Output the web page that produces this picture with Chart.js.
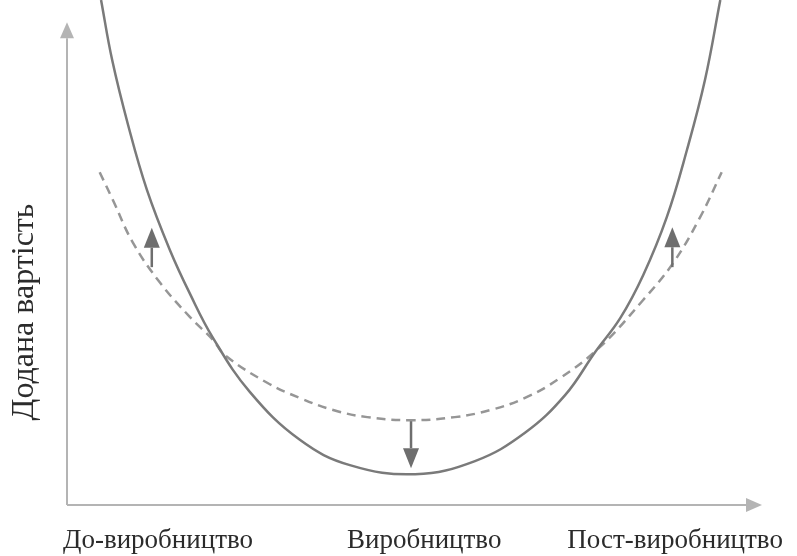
<!DOCTYPE html>
<html>
<head>
    <title>Smile Curve</title>
    <script src="https://cdn.jsdelivr.net/npm/chart.js"></script>
    <style>
        body { margin: 0; background: #fff; }
    </style>
</head>
<body>
    <canvas id="chart" width="797" height="556"></canvas>

    <script>
        // values, x and y on a 0..100 scale
        const solidX = [4.9, 6.5, 8.8, 11.5, 14.8, 17.7, 21.0, 26.3, 33.5, 40.7, 50.1, 58.7, 65.9, 71.7, 76.0, 79.6, 82.9, 86.3, 89.2, 91.8, 94.0];
        const solidY = [100, 88.1, 75.2, 62.4, 50.5, 41.8, 33.1, 22.4, 12.9, 7.9, 6.1, 8.7, 14.3, 21.8, 30.3, 37.0, 45.5, 57.0, 70.3, 84.2, 100];
        const dashedX = [4.7, 6.6, 9.5, 13.4, 17.7, 21.0, 22.7, 28.8, 33.5, 38.3, 43.2, 49.4, 55.8, 60.9, 65.9, 70.9, 76.7, 82.9, 87.2, 91.1, 94.2];
        const dashedY = [65.9, 60.4, 51.9, 44.0, 37.2, 32.7, 29.7, 24.2, 21.2, 18.8, 17.4, 16.8, 17.4, 18.8, 21.2, 25.1, 31.3, 40.6, 47.9, 57.0, 65.9];

        // shift arrows: x, start y, end y
        const shiftX = [12.2, 87.1, 49.5];
        const shiftFrom = [47.1, 47.1, 16.6];
        const shiftTo = [54.9, 55.0, 7.3];

        const stageLabels = ['До-виробництво', 'Виробництво', 'Пост-виробництво'];
        const stageX = [13.1, 51.4, 87.5];
        const yTitle = 'Додана вартість';

        const toPoints = (xs, ys) => xs.map((v, i) => ({ x: v, y: ys[i] }));

        function arrow(ctx, x1, y1, x2, y2, len, w) {
            const ang = Math.atan2(y2 - y1, x2 - x1);
            const bx = x2 - len * Math.cos(ang), by = y2 - len * Math.sin(ang);
            ctx.beginPath();
            ctx.moveTo(x1, y1);
            ctx.lineTo(bx, by);
            ctx.stroke();
            ctx.beginPath();
            ctx.moveTo(x2, y2);
            ctx.lineTo(bx + w / 2 * Math.sin(ang), by - w / 2 * Math.cos(ang));
            ctx.lineTo(bx - w / 2 * Math.sin(ang), by + w / 2 * Math.cos(ang));
            ctx.closePath();
            ctx.fill();
        }

        const decor = {
            id: 'decor',
            afterDatasetsDraw(chart) {
                const { ctx, chartArea: a, scales: { x, y } } = chart;
                ctx.save();

                // axes
                ctx.strokeStyle = '#b4b4b4';
                ctx.fillStyle = '#b4b4b4';
                ctx.lineWidth = 2;
                arrow(ctx, a.left, a.bottom, a.left, y.getPixelForValue(95.6), 16, 14);
                arrow(ctx, a.left, a.bottom, a.right, a.bottom, 16, 14);

                // shift arrows
                ctx.strokeStyle = '#6e6e6e';
                ctx.fillStyle = '#6e6e6e';
                ctx.lineWidth = 2.5;
                shiftX.forEach((v, i) => {
                    arrow(ctx, x.getPixelForValue(v), y.getPixelForValue(shiftFrom[i]),
                        x.getPixelForValue(v), y.getPixelForValue(shiftTo[i]), 20, 16);
                });

                // texts
                ctx.fillStyle = '#2b2b2b';
                ctx.font = '27px "Liberation Serif"';
                ctx.textAlign = 'center';
                ctx.textBaseline = 'middle';
                stageLabels.forEach((t, i) => {
                    ctx.fillText(t, x.getPixelForValue(stageX[i]), 541);
                });
                ctx.font = '32px "Liberation Serif"';
                ctx.translate(25, 312);
                ctx.rotate(-Math.PI / 2);
                ctx.fillText(yTitle, 0, 0);
                ctx.restore();
            }
        };

        new Chart(document.getElementById('chart'), {
            type: 'line',
            data: {
                datasets: [{
                    data: toPoints(solidX, solidY),
                    borderColor: '#7a7a7a',
                    borderWidth: 2.5,
                    pointRadius: 0,
                    tension: 0.4
                }, {
                    data: toPoints(dashedX, dashedY),
                    borderColor: '#969696',
                    borderWidth: 2.5,
                    borderDash: [9, 6],
                    pointRadius: 0,
                    tension: 0.4
                }]
            },
            options: {
                responsive: false,
                animation: false,
                layout: { padding: { left: 67, right: 35, top: 0, bottom: 51 } },
                plugins: { legend: { display: false }, tooltip: { enabled: false } },
                scales: {
                    x: { type: 'linear', min: 0, max: 100, display: false },
                    y: { min: 0, max: 100, display: false }
                }
            },
            plugins: [decor]
        });
    </script>
</body>
</html>
